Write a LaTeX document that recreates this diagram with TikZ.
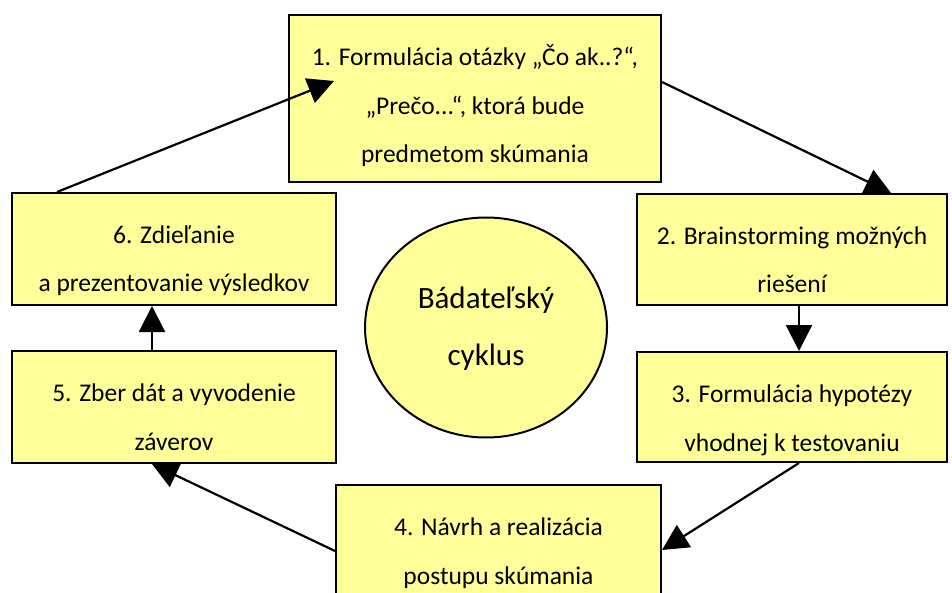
\documentclass[tikz,border=0pt]{standalone}
\usepackage{fontspec}
\setmainfont{Carlito}
\usetikzlibrary{arrows.meta,shapes.geometric}

\definecolor{boxyellow}{HTML}{FFFF99}

\tikzset{
  stage/.style={draw=black, line width=2pt, fill=boxyellow, inner sep=0pt},
  stagetext/.style={anchor=base, align=center, inner sep=0pt,
    font=\fontsize{25.5}{48.5}\selectfont},
  cyc/.style={line width=2.2pt, -{Triangle[length=26pt, width=26pt]}}
}

\begin{document}
\begin{tikzpicture}[x=1pt, y=-1pt]
  \useasboundingbox (0,0) rectangle (952,593);
  \clip (0,0) rectangle (952,593);

  % stages of the cycle
  \node[stage, minimum width=372, minimum height=167] (b1) at (475, 98.5) {};
  \node[stage, minimum width=310, minimum height=111] (b2) at (792, 249.5) {};
  \node[stage, minimum width=310, minimum height=110] (b3) at (792, 407) {};
  \node[stage, minimum width=325, minimum height=112] (b4) at (498.5, 541) {};
  \node[stage, minimum width=324, minimum height=112] (b5) at (174, 407) {};
  \node[stage, minimum width=324, minimum height=112] (b6) at (174, 249) {};

  % the anchor is the baseline of the last line
  \node[stagetext] (t1) at ([yshift=-149]b1.north)
    {1. Formulácia otázky „Čo ak..?“,\\„Prečo...“, ktorá bude\\predmetom skúmania};
  \node[stagetext] (t2) at ([yshift=-100]b2.north)
    {2. Brainstorming možných\\riešení};
  \node[stagetext] (t3) at ([yshift=-100]b3.north)
    {3. Formulácia hypotézy\\vhodnej k testovaniu};
  \node[stagetext] (t4) at ([yshift=-100]b4.north)
    {4. Návrh a realizácia\\postupu skúmania};
  \node[stagetext] (t5) at ([yshift=-100]b5.north)
    {5. Zber dát a vyvodenie\\záverov};
  \node[stagetext] (t6) at ([yshift=-100]b6.north)
    {6. Zdieľanie\\a prezentovanie výsledkov};

  % centre
  \node[ellipse, draw=black, line width=2pt, fill=boxyellow,
    minimum width=242, minimum height=220, inner sep=0pt] (hub) at (486, 327.5) {};
  \node[stagetext, font=\fontsize{31}{57}\selectfont] (thub)
    at ([yshift=-37.5]hub.center) {Bádateľský\\cyklus};

  % arrows
  \draw[cyc] ([yshift=-68]b1.north east) -- ([xshift=255]b2.north west);
  \draw[cyc] ([xshift=7]b2.south) -- ([xshift=7]b3.north);
  \draw[cyc] ([xshift=7]b3.south) -- ([yshift=-66]b4.north east);
  \draw[cyc] ([yshift=-67]b4.north west) -- ([xshift=-22]b5.south);
  \draw[cyc] ([xshift=-22]b5.north) -- ([xshift=-22]b6.south);
  \draw[cyc] ([xshift=46]b6.north west) -- ([xshift=46,yshift=-67]b1.north west);
\end{tikzpicture}
\end{document}
